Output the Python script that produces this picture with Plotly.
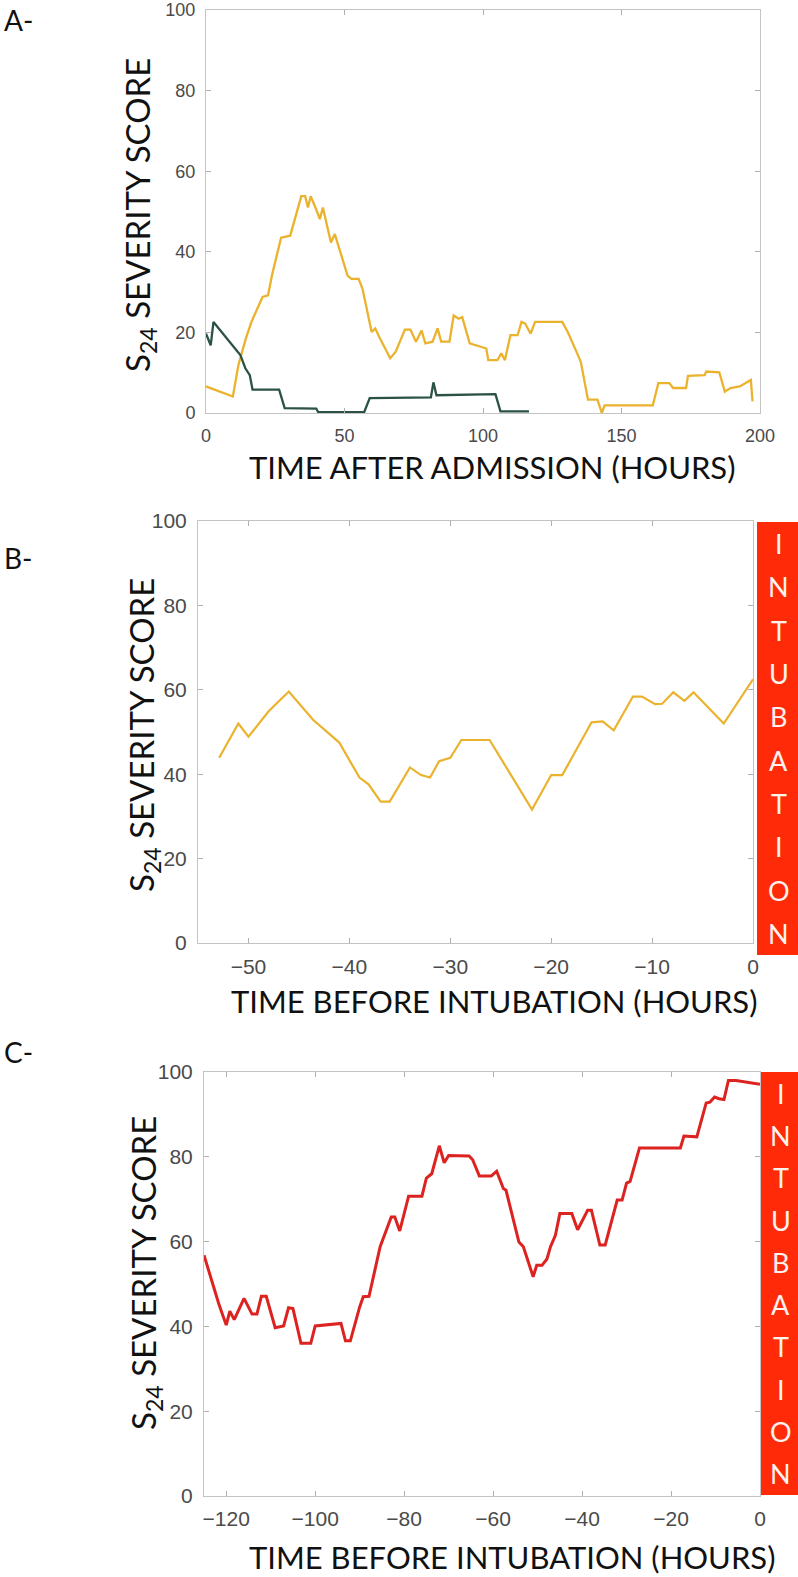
import plotly.graph_objects as go

# ---------------- data ----------------
# Panel A: time after admission (hours)
a_yellow_t = [0, 9.7, 11.7, 14.4, 16.4, 18.4, 20.4, 22.4, 23.8, 27.1, 30.4, 34.4, 35.8, 36.8, 37.8, 39.8,
              41.1, 42.2, 45.1, 46.5, 47.8, 51.1, 52.5, 55.1, 56.5, 59.8, 61.1, 62.5, 66.5, 68.5, 71.8,
              73.8, 75.8, 77.8, 79.2, 81.8, 83.6, 84.9, 87.9, 89.4, 91.2, 92.5, 95.2, 97.9, 101.2, 101.9,
              105.2, 106.6, 107.9, 109.9, 112.5, 113.9, 115.2, 117.2, 118.8, 128.6, 130.6, 134.0, 135.3,
              137.9, 141.3, 142.9, 143.9, 161.3, 163.3, 167.3, 168.6, 173.3, 174.0, 180.0, 180.6, 185.3,
              187.3, 189.3, 192.7, 196.7, 197.3]
a_yellow_v = [6.6, 4.1, 11.9, 18.5, 22.6, 25.5, 28.8, 29.2, 34.1, 43.5, 44.0, 53.8, 53.8, 51.0, 53.8, 50.5,
              48.1, 51.0, 42.3, 44.4, 41.5, 34.1, 33.3, 33.3, 30.8, 20.1, 21.0, 18.9, 13.6, 15.2, 20.7,
              20.7, 17.7, 20.5, 17.3, 17.7, 21.0, 17.7, 17.7, 24.2, 23.4, 23.8, 17.3, 16.8, 16.0, 13.1,
              13.1, 14.8, 13.1, 19.3, 19.3, 22.6, 22.2, 19.7, 22.6, 22.6, 20.1, 14.8, 12.7,
              3.3, 3.3, 0.0, 1.9, 1.9, 7.4, 7.4, 6.2, 6.2, 9.2, 9.4, 10.3, 10.1,
              5.3, 6.2, 6.6, 8.2, 2.9]
a_green_t = [0, 1.7, 2.7, 5.1, 12.4, 14.2, 15.8, 16.8, 26.4, 28.4, 39.8, 40.5, 57.1, 59.1, 81.2, 82.1,
             83.2, 104.5, 106.3, 116.6]
a_green_v = [19.7, 16.8, 22.6, 20.5, 14.4, 11.1, 9.4, 5.8, 5.8, 1.2, 1.1, 0.2, 0.2, 3.7, 3.9, 7.6,
             4.4, 4.7, 0.4, 0.4]

# Panel B: time before intubation (hours)
b_t = [-52.9, -51.0, -50.0, -48.0, -46.0, -43.6, -42.1, -41.0, -39.0, -38.1, -36.9, -36.0, -34.0, -32.9,
       -32.0, -31.1, -30.0, -28.9, -26.1, -21.9, -20.0, -18.9, -16.0, -14.9, -13.8, -11.9, -11.0, -9.7,
       -9.0, -7.9, -6.8, -5.9, -2.9, 0.0]
b_v = [43.9, 52.0, 48.9, 54.9, 59.6, 52.9, 49.8, 47.5, 39.2, 37.6, 33.5, 33.5, 41.6, 39.8,
       39.2, 43.1, 43.9, 48.1, 48.1, 31.6, 39.8, 39.8, 52.3, 52.5, 50.4, 58.4, 58.4, 56.6,
       56.7, 59.4, 57.4, 59.4, 52.0, 62.5]

# Panel C: time before intubation (hours)
c_t = [-125, -123.3, -121.7, -120, -119.2, -118.2, -116, -114.2, -113.1, -112.1, -111, -109, -107.1, -106,
       -105, -103.2, -101, -100, -94.2, -93.2, -92.1, -90, -89.2, -87.9, -85.4, -82.9, -82.1, -81, -79,
       -76, -75, -73.8, -72.1, -71, -70, -65.4, -64.6, -63.1, -60.4, -59.2, -57.7, -57.1, -54.2, -53.2,
       -51, -50.2, -49, -47.9, -47.1, -46, -45, -42.3, -41, -38.75, -37.9, -36, -34.8, -32.1, -31, -30,
       -29.2, -27.1, -17.9, -17.1, -14.2, -12.1, -11.25, -10.2, -9.2, -8.1, -7.1, -5.4, 0]
c_v = [56.8, 50.9, 45.4, 40.3, 43.6, 41.6, 46.6, 42.9, 42.9, 47.1, 47.1, 39.7, 40.1, 44.4,
       44.2, 36.0, 36.0, 40.1, 40.7, 36.6, 36.6, 44.6, 47.0, 47.1, 58.8, 65.8, 65.8, 62.5, 70.7,
       70.7, 75.0, 76.0, 82.6, 78.6, 80.3, 80.2, 79.3, 75.5, 75.5, 76.6, 72.5, 72.1, 59.9, 58.8,
       51.7, 54.4, 54.4, 55.9, 58.8, 61.5, 66.6, 66.6, 62.8, 67.4, 67.4, 59.2, 59.2, 69.8, 69.8, 73.8,
       74.2, 82.1, 82.1, 84.9, 84.7, 92.7, 92.9, 94.1, 93.7, 93.5, 98.0, 98.0, 97.1]

y_ticks = [0, 20, 40, 60, 80, 100]
a_x_ticks = [0, 50, 100, 150, 200]
b_x_ticks = [-50, -40, -30, -20, -10, 0]
c_x_ticks = [-120, -100, -80, -60, -40, -20, 0]

panel_labels = ["A-", "B-", "C-"]
x_titles = ["TIME AFTER ADMISSION (HOURS)", "TIME BEFORE INTUBATION (HOURS)", "TIME BEFORE INTUBATION (HOURS)"]
y_title = "S<sub>24</sub> SEVERITY SCORE"
box_word = "INTUBATION"

# ---------------- layout helpers ----------------
W, H = 798, 1577


def px_x(p):
    return p / W


def px_y(p):
    return 1 - p / H


YELLOW = "#EBB22E"
GREEN = "#2B5243"
RED = "#DC2320"
BOXRED = "#FF2B08"
AXC = "#C4C4C4"
TICKFONT = "Liberation Sans"
TEXTFONT = "Lato"

fig = go.Figure()
fig.add_trace(go.Scatter(x=a_yellow_t, y=a_yellow_v, mode="lines", line=dict(color=YELLOW, width=2.3),
                         xaxis="x", yaxis="y", showlegend=False))
fig.add_trace(go.Scatter(x=a_green_t, y=a_green_v, mode="lines", line=dict(color=GREEN, width=2.3),
                         xaxis="x", yaxis="y", showlegend=False))
fig.add_trace(go.Scatter(x=b_t, y=b_v, mode="lines", line=dict(color=YELLOW, width=2.2),
                         xaxis="x2", yaxis="y2", showlegend=False))
fig.add_trace(go.Scatter(x=c_t, y=c_v, mode="lines", line=dict(color=RED, width=3),
                         xaxis="x3", yaxis="y3", showlegend=False))

# pixel geometry of the three plot areas: (left, right, top, bottom)
geo = [(206, 760, 10, 413), (198, 753, 521, 943), (204, 760, 1072, 1496)]
x_ranges = [[0, 200], [-55, 0], [-125, 0]]
x_tick_lists = [a_x_ticks, b_x_ticks, c_x_ticks]
tick_sizes = [18, 21, 21]
x_standoffs = [6, 5, 4]


def axis_common(size):
    return dict(showline=True, linecolor=AXC, linewidth=1, mirror="ticks", ticks="inside",
                ticklen=5, tickcolor="#B0B0B0", tickwidth=1, showgrid=False, zeroline=False,
                tickfont=dict(family=TICKFONT, size=size, color="#4A4A4A"))


layout = dict(width=W, height=H, margin=dict(l=0, r=0, t=0, b=0, autoexpand=False), plot_bgcolor="white",
              paper_bgcolor="white", showlegend=False)
for i, (l, r, t, b) in enumerate(geo):
    sfx = "" if i == 0 else str(i + 1)
    xa = axis_common(tick_sizes[i])
    xa.update(domain=[px_x(l), px_x(r)], range=x_ranges[i], tickvals=x_tick_lists[i],
              anchor="y" + sfx, ticklabelstandoff=x_standoffs[i])
    ya = axis_common(tick_sizes[i])
    ya.update(domain=[px_y(b), px_y(t)], range=[0, 100], tickvals=y_ticks, anchor="x" + sfx,
              ticklabelstandoff=6)
    layout["xaxis" + sfx] = xa
    layout["yaxis" + sfx] = ya
fig.update_layout(**layout)

# axis titles, panel labels
x_title_pos = [(492, 467), (494, 1001), (512, 1557)]
y_title_pos = [(140, 215), (143, 735), (145, 1273)]
label_pos = [(18, 20), (18, 558), (18, 1052)]
for i in range(3):
    fig.add_annotation(x=px_x(x_title_pos[i][0]), y=px_y(x_title_pos[i][1]), xref="paper", yref="paper",
                       text=x_titles[i], showarrow=False, font=dict(family=TEXTFONT, size=31, color="#111"),
                       xanchor="center", yanchor="middle")
    fig.add_annotation(x=px_x(y_title_pos[i][0]), y=px_y(y_title_pos[i][1]), xref="paper", yref="paper",
                       text=y_title, showarrow=False, textangle=-90,
                       font=dict(family=TEXTFONT, size=33, color="#111"),
                       xanchor="center", yanchor="middle")
    fig.add_annotation(x=px_x(label_pos[i][0]), y=px_y(label_pos[i][1]), xref="paper", yref="paper",
                       text=panel_labels[i], showarrow=False, font=dict(family=TEXTFONT, size=28, color="#111"),
                       xanchor="center", yanchor="middle")

# red INTUBATION boxes next to panels B and C
boxes = [(757, 798, 522, 955), (761, 798, 1072, 1495)]
for (l, r, t, b) in boxes:
    fig.add_shape(type="rect", xref="paper", yref="paper", x0=px_x(l), x1=px_x(r + 5), y0=px_y(b), y1=px_y(t),
                  fillcolor=BOXRED, line=dict(width=0), layer="above")
    n = len(box_word)
    step = (b - t) / n
    for k, ch in enumerate(box_word):
        fig.add_annotation(x=px_x((l + r) / 2 + 1), y=px_y(t + step * (k + 0.5)), xref="paper", yref="paper",
                           text=ch, showarrow=False, font=dict(family=TEXTFONT, size=27, color="#FFF2EE"),
                           xanchor="center", yanchor="middle")

fig.write_html("out.html", config={"displayModeBar": False},
               post_script="document.body.style.margin='0';document.body.style.overflow='hidden';")
